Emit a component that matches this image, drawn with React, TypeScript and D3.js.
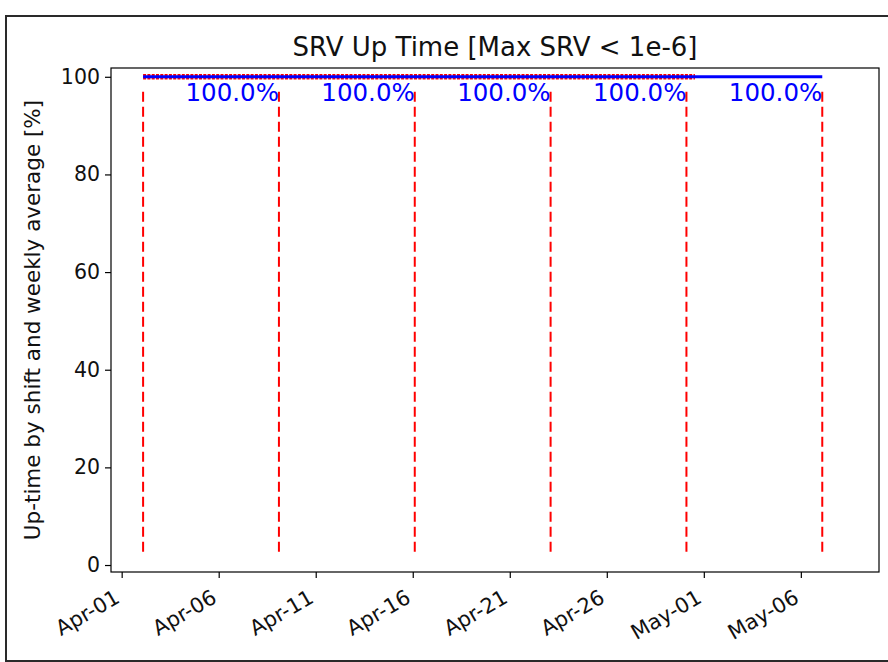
import React, { useEffect, useRef } from 'react';
import * as d3 from 'd3';

// week boundaries (weekly average segments)
const weekBounds = [
  '2024-04-02T02:30', '2024-04-09T02:30', '2024-04-16T02:30',
  '2024-04-23T02:30', '2024-04-30T02:30', '2024-05-07T02:30',
];
const weeklyAvg = [100, 100, 100, 100, 100, 100];
const weekLabels = ['100.0%', '100.0%', '100.0%', '100.0%', '100.0%'];

// per-shift up-time
const shiftTimes = [
  '2024-04-02T02:30', '2024-04-06T10:30', '2024-04-11T18:30', '2024-04-16T02:30',
  '2024-04-21T10:30', '2024-04-25T18:30', '2024-04-30T13:00',
];
const shiftUptime = [100, 100, 100, 100, 100, 100, 100];

const xTicks = [
  '2024-04-01', '2024-04-06', '2024-04-11', '2024-04-16',
  '2024-04-21', '2024-04-26', '2024-05-01', '2024-05-06',
];
const yTicks = [0, 20, 40, 60, 80, 100];

const W = 888;
const H = 662;

export default function App() {
  const svgRef = useRef<SVGSVGElement>(null);

  useEffect(() => {
    const parse = (s: string) => new Date(s);
    const margin = { top: 68, right: 9, bottom: 90, left: 111 };
    const x0 = margin.left, x1 = W - margin.right;
    const y0 = H - margin.bottom, y1 = margin.top;
    const font = '"DejaVu Sans", sans-serif';

    const svg = d3.select(svgRef.current);
    svg.selectAll('*').remove();
    svg.attr('width', W).attr('height', H).style('font-family', font);

    svg.append('rect').attr('width', W).attr('height', H).attr('fill', '#fff');
    // outer frame
    svg.append('rect')
      .attr('x', 6).attr('y', 16).attr('width', W + 10).attr('height', 645)
      .attr('fill', 'none').attr('stroke', '#2a2a2a').attr('stroke-width', 2);

    const xScale = d3.scaleTime()
      .domain([new Date('2024-03-31T10:48'), new Date('2024-05-10T00:40')])
      .range([x0, x1]);
    const yScale = d3.scaleLinear().domain([-1.43, 101.8]).range([y0, y1]);
    const fracScale = d3.scaleLinear().domain([0, 1]).range([y0, y1]);

    const line = d3.line<[Date, number]>().x(d => xScale(d[0])).y(d => yScale(d[1]));

    // shift up-time (red dotted)
    svg.append('path')
      .datum(shiftTimes.map((t, i) => [parse(t), shiftUptime[i]] as [Date, number]))
      .attr('d', line)
      .attr('fill', 'none').attr('stroke', '#ff0000')
      .attr('stroke-width', 5.5).attr('stroke-dasharray', '3,1.3');

    // weekly average (blue)
    svg.append('path')
      .datum(weekBounds.map((t, i) => [parse(t), weeklyAvg[i]] as [Date, number]))
      .attr('d', line)
      .attr('fill', 'none').attr('stroke', '#0000ff').attr('stroke-width', 3);

    // week boundaries
    svg.selectAll('.wk')
      .data(weekBounds)
      .enter().append('line')
      .attr('x1', d => xScale(parse(d))).attr('x2', d => xScale(parse(d)))
      .attr('y1', fracScale(0.04)).attr('y2', fracScale(0.96))
      .attr('stroke', '#ff0000').attr('stroke-width', 2)
      .attr('stroke-dasharray', '10,5');

    // weekly labels
    svg.selectAll('.lbl')
      .data(weekLabels)
      .enter().append('text')
      .attr('x', (d, i) => xScale(parse(weekBounds[i + 1])))
      .attr('y', yScale(100) + 24)
      .attr('text-anchor', 'end')
      .attr('fill', '#0000ff')
      .attr('font-size', 24.5)
      .text(d => d);

    // spines
    svg.append('rect')
      .attr('x', x0).attr('y', y1).attr('width', x1 - x0).attr('height', y0 - y1)
      .attr('fill', 'none').attr('stroke', '#000').attr('stroke-width', 1.2);

    // y axis
    const yAxis = svg.append('g')
      .attr('transform', `translate(${x0},0)`)
      .call(d3.axisLeft(yScale).tickValues(yTicks).tickSize(6).tickPadding(5));
    yAxis.select('.domain').remove();
    yAxis.selectAll('text').attr('font-size', 20.5).attr('fill', '#111').attr('font-family', font);
    yAxis.selectAll('line').attr('stroke-width', 1.2);

    // x axis, labels rotated 30deg with right edge of box at the tick
    const xAxis = svg.append('g')
      .attr('transform', `translate(0,${y0})`)
      .call(d3.axisBottom(xScale).tickValues(xTicks.map(parse)).tickSize(6)
        .tickFormat(d => d3.timeFormat('%b-%d')(d as Date)));
    xAxis.select('.domain').remove();
    xAxis.selectAll('line').attr('stroke-width', 1.2);
    xAxis.selectAll('text')
      .attr('font-size', 21).attr('fill', '#111').attr('font-family', font)
      .attr('text-anchor', 'end')
      .attr('dy', '0.75em')
      .attr('y', 0)
      .attr('transform', 'translate(-9,16) rotate(-30)');

    // title
    svg.append('text')
      .attr('x', (x0 + x1) / 2).attr('y', 56)
      .attr('text-anchor', 'middle').attr('font-size', 26).attr('fill', '#111')
      .text('SRV Up Time [Max SRV < 1e-6]');

    // y label
    svg.append('text')
      .attr('transform', `translate(40,${(y0 + y1) / 2}) rotate(-90)`)
      .attr('text-anchor', 'middle').attr('font-size', 21.5).attr('fill', '#111')
      .text('Up-time by shift and weekly average [%]');
  }, []);

  return (
    <svg ref={svgRef} style={{ position: 'absolute', left: 0, top: 0, display: 'block' }}></svg>
  );
}
